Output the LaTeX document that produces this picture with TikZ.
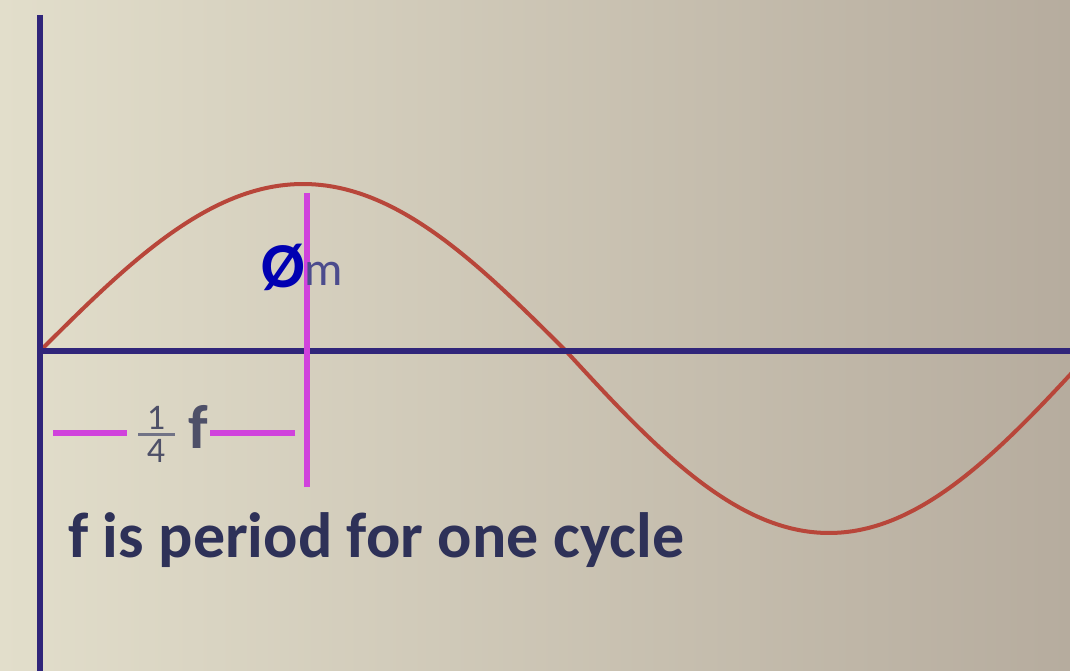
\documentclass[tikz,border=0pt]{standalone}
\usepackage{fontspec}
\setmainfont{Carlito}
\definecolor{axis}{HTML}{30257A}
\definecolor{wave}{HTML}{B8463A}
\definecolor{mag}{HTML}{D042DC}
\definecolor{txt}{HTML}{2E3158}
\definecolor{qtxt}{HTML}{4E5068}
\definecolor{bgl}{HTML}{E2DECB}
\definecolor{bgr}{HTML}{B6AC9E}
\tikzset{
  axisline/.style={draw=axis,line width=6pt},
  waveline/.style={draw=wave,line width=4pt},
  magline/.style={draw=mag,line width=6pt},
  lbl/.style={inner sep=0pt,font=\bfseries,text=txt},
  digit/.style={inner sep=0pt,text=qtxt,font=\fontsize{36}{40}\selectfont}
}
\begin{document}
\begin{tikzpicture}[x=1pt,y=-1pt]
\shade[left color=bgl,right color=bgr] (0,0) rectangle (1070,671);
\useasboundingbox (0,0) rectangle (1070,671);
\coordinate (ytop) at (40,15);
\coordinate (ybot) at (40,671);
\coordinate (O) at (40,351);
\coordinate (xend) at (1070,351);
\coordinate (mtop) at (307,193);
\coordinate (mbot) at (307,487);
% sine wave
\draw[waveline] plot[domain=0:180,samples=60,smooth] ({40+\x/90*263},{351-167*sin(\x)});
\draw[waveline] plot[domain=180:355,samples=60,smooth] ({40+\x/90*263},{351-182*sin(\x)});
% axes
\draw[axisline] (O) -- (xend);
\draw[axisline] (ytop) -- (ybot);
% magenta marker
\draw[magline] (mtop) -- (mbot);
\node[lbl,font=\fontsize{64}{70}\selectfont\bfseries,text=blue!70!black] (phi) at (283,267) {Ø};
\node[lbl,font=\fontsize{48}{52}\selectfont,text=blue!30!gray!85!black] (m) at (324,274) {m};
% quarter period
\node[inner sep=0pt,minimum width=37pt,minimum height=3pt,fill=qtxt!80] (qbar) at (156.5,434) {};
\node[digit] (qn) at (156,418) {1};
\node[digit] (qd) at (156,451) {4};
\node[lbl,text=qtxt,font=\fontsize{62}{70}\selectfont\bfseries] (f) at (198,427) {f};
\coordinate (ql) at (53,433);
\coordinate (qr) at (295,433);
\draw[magline,shorten >=11pt] (ql) -- (qbar.west |- ql);
\draw[magline] (qr) -- ([xshift=2pt]f.east |- qr);
% caption
\node[lbl,anchor=base west,font=\fontsize{64}{70}\selectfont\bfseries] (cap) at (68,557) {f is period for one cycle};
\end{tikzpicture}
\end{document}
